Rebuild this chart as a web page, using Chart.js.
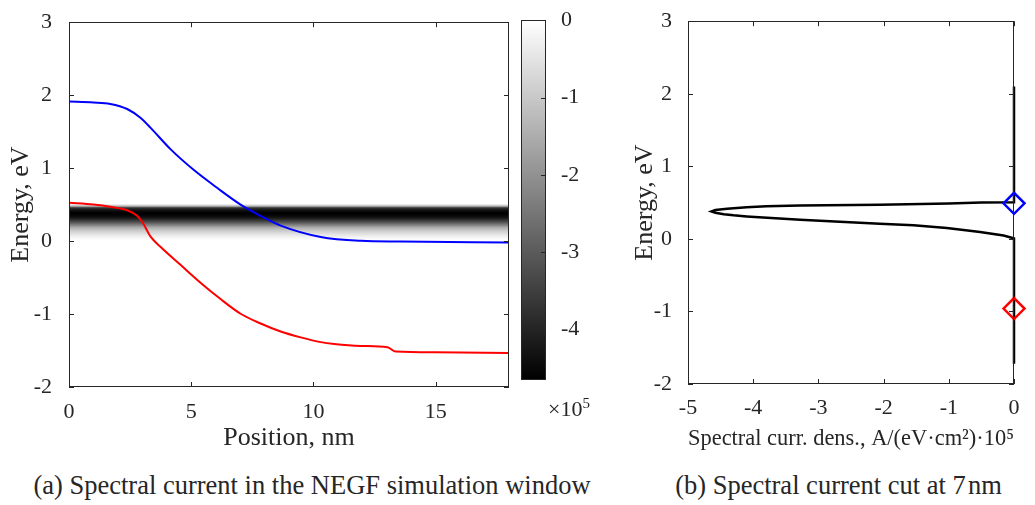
<!DOCTYPE html>
<html>
<head>
<meta charset="utf-8">
<script src="https://cdn.jsdelivr.net/npm/chart.js@4.4.1/dist/chart.umd.min.js"></script>
<style>
  body { margin: 0; background: #fff; width: 1035px; height: 505px; position: relative; overflow: hidden; font-family: "Liberation Serif", serif; color: #262626; }
  canvas { position: absolute; }
  .txt { position: absolute; font-family: "Liberation Serif", serif; white-space: nowrap; color: #262626; }
</style>
</head>
<body>
<canvas id="chartA" width="515" height="460" style="left:0;top:0"></canvas>
<canvas id="chartCb" width="100" height="400" style="left:500px;top:0"></canvas>
<canvas id="chartB" width="415" height="460" style="left:620px;top:0"></canvas>
<div class="txt" id="cbExp" style="left:548px;top:395px;font-size:22px">×10<sup style="font-size:15px">5</sup></div>
<div class="txt" style="left:0;width:624px;text-align:center;top:470px;line-height:30px;font-size:26.5px">(a) Spectral current in the NEGF simulation window</div>
<div class="txt" style="left:642px;width:393px;text-align:center;top:470px;line-height:30px;font-size:26.5px">(b) Spectral current cut at 7&#8202;nm</div>
<script>
// band edges along the device
const bluePos = [0, 1, 1.69, 2.38, 2.92, 3.33, 4.15, 5.11, 6.07, 7.02, 7.84, 8.66, 10.3, 11.94, 13.58, 18];
const blueE   = [1.913, 1.90, 1.88, 1.81, 1.69, 1.555, 1.26, 0.973, 0.727, 0.50, 0.346, 0.212, 0.056, 0.003, -0.007, -0.018];
const redPos  = [0, 1, 1.69, 2.38, 2.79, 3.03, 3.33, 3.74, 4.56, 5.38, 6.2, 7.02, 7.84, 8.66, 9.48, 10.3, 10.85, 11.94, 13.03, 13.37, 15, 18];
const redE    = [0.526, 0.50, 0.47, 0.423, 0.346, 0.244, 0.065, -0.078, -0.325, -0.57, -0.795, -0.996, -1.13, -1.24, -1.32, -1.385, -1.41, -1.437, -1.456, -1.515, -1.525, -1.533];

// spectral current cut at 7 nm (x1e5 A/(eV cm^2))
const specE = [2.1, 0.505, 0.5, 0.487, 0.47, 0.46, 0.45, 0.435, 0.415, 0.398, 0.378, 0.36, 0.34, 0.325, 0.31, 0.264, 0.21, 0.187, 0.15, 0.096, 0.046, 0.02, 0.005, -1.72];
const specJ = [0, 0, -0.5, -1.0, -2.06, -3.28, -3.8, -4.1, -4.4, -4.58, -4.64, -4.58, -4.45, -4.3, -4.1, -3.28, -2.06, -1.54, -1.03, -0.52, -0.16, -0.05, 0, 0];

// band edges at the cut
const markE = [0.49, -0.96];
const markJ = [0, 0];

const posTicks = [0, 5, 10, 15];
const energyTicks = [-2, -1, 0, 1, 2, 3];
const currTicks = [-5, -4, -3, -2, -1, 0];
const cbTicks = [0, -1, -2, -3, -4];
const cbMin = -4.65;

const axisColor = '#262626';
const tickFont = { family: 'Liberation Serif', size: 22 };
const titleFont = { family: 'Liberation Serif', size: 26 };

function grayFor(j) {
    const g = Math.round(255 * (1 - j / cbMin));
    return 'rgb(' + g + ',' + g + ',' + g + ')';
}

function toPoints(xs, ys) {
    return xs.map((x, i) => ({ x: x, y: ys[i] }));
}

// box around plot with inward ticks, like matlab
const frameTicks = {
    id: 'frameTicks',
    afterDraw(chart, args, opts) {
        const { ctx, chartArea: a, scales } = chart;
        ctx.save();
        ctx.strokeStyle = axisColor;
        ctx.lineWidth = 1;
        ctx.strokeRect(Math.round(a.left) + 0.5, Math.round(a.top) + 0.5, Math.round(a.width) - 1, Math.round(a.height) - 1);
        const len = 5;
        ctx.beginPath();
        if (opts.x && scales.x) {
            scales.x.ticks.forEach(t => {
                const px = Math.round(scales.x.getPixelForValue(t.value)) + 0.5;
                ctx.moveTo(px, a.bottom); ctx.lineTo(px, a.bottom - len);
                ctx.moveTo(px, a.top); ctx.lineTo(px, a.top + len);
            });
        }
        if (opts.y && scales.y) {
            scales.y.ticks.forEach(t => {
                const py = Math.round(scales.y.getPixelForValue(t.value)) + 0.5;
                if (opts.y !== 'right') { ctx.moveTo(a.left, py); ctx.lineTo(a.left + len, py); }
                ctx.moveTo(a.right, py); ctx.lineTo(a.right - len, py);
            });
        }
        ctx.stroke();
        ctx.restore();
    }
};

function bandGradient(context) {
    const chart = context.chart;
    if (!chart.chartArea) return 'rgba(0,0,0,0)';
    const y = chart.scales.y;
    const top = y.getPixelForValue(y.max);
    const bot = y.getPixelForValue(y.min);
    const g = chart.ctx.createLinearGradient(0, top, 0, bot);
    g.addColorStop(0, '#fff');
    g.addColorStop(1, '#fff');
    specE.forEach((e, i) => {
        const off = (y.getPixelForValue(e) - top) / (bot - top);
        if (off > 0 && off < 1) g.addColorStop(off, grayFor(specJ[i]));
    });
    return g;
}

function setTicks(list) {
    return function (scale) { scale.ticks = list.map(v => ({ value: v })); };
}

const chartA = new Chart(document.getElementById('chartA').getContext('2d'), {
    type: 'scatter',
    data: {
        datasets: [
            { data: toPoints(bluePos, blueE), showLine: true, borderColor: '#0000ff', borderWidth: 2, pointRadius: 0, cubicInterpolationMode: 'monotone', order: 0 },
            { data: toPoints(redPos, redE), showLine: true, borderColor: '#ff0000', borderWidth: 2, pointRadius: 0, cubicInterpolationMode: 'monotone', order: 0 },
            { data: [{ x: 0, y: 3 }, { x: 18, y: 3 }], showLine: true, borderWidth: 0, pointRadius: 0, fill: { value: -2 }, backgroundColor: bandGradient, order: 5 }
        ]
    },
    options: {
        responsive: false,
        animation: false,
        devicePixelRatio: 1,
        layout: { padding: { top: 14, right: 6, left: 0, bottom: 0 } },
        plugins: { legend: { display: false }, tooltip: { enabled: false }, frameTicks: { x: true, y: true } },
        scales: {
            x: {
                type: 'linear', min: 0, max: 18,
                afterBuildTicks: setTicks(posTicks),
                afterFit: s => { s.height = 73; },
                grid: { display: false },
                border: { display: false },
                ticks: { font: tickFont, color: axisColor, padding: 4, maxRotation: 0 },
                title: { display: true, text: 'Position, nm', font: titleFont, color: axisColor, padding: { top: 6, bottom: 6 } }
            },
            y: {
                type: 'linear', min: -2, max: 3,
                afterBuildTicks: setTicks(energyTicks),
                afterFit: s => { s.width = 69; },
                grid: { display: false },
                border: { display: false },
                ticks: { font: tickFont, color: axisColor, padding: 9 },
                title: { display: true, text: 'Energy, eV', font: titleFont, color: axisColor, padding: { top: 6, bottom: 6 } }
            }
        }
    },
    plugins: [frameTicks]
});

const chartCb = new Chart(document.getElementById('chartCb').getContext('2d'), {
    type: 'bar',
    data: {
        labels: [''],
        datasets: [{
            data: [[cbMin, 0]],
            categoryPercentage: 1, barPercentage: 1, borderWidth: 0,
            backgroundColor: function (context) {
                const chart = context.chart;
                if (!chart.chartArea) return '#888';
                const y = chart.scales.y;
                const g = chart.ctx.createLinearGradient(0, y.getPixelForValue(cbMin), 0, y.getPixelForValue(0));
                g.addColorStop(0, '#000');
                g.addColorStop(1, '#fff');
                return g;
            }
        }]
    },
    options: {
        responsive: false,
        animation: false,
        devicePixelRatio: 1,
        layout: { padding: { top: 14, left: 21, right: 0, bottom: 13 } },
        plugins: { legend: { display: false }, tooltip: { enabled: false }, frameTicks: { x: false, y: 'right' } },
        scales: {
            x: { display: false },
            y: {
                position: 'right', min: cbMin, max: 0,
                afterBuildTicks: setTicks(cbTicks),
                afterFit: s => { s.width = 54; },
                grid: { display: false },
                border: { display: false },
                ticks: { font: tickFont, color: axisColor, padding: 7 }
            }
        }
    },
    plugins: [frameTicks]
});

const chartB = new Chart(document.getElementById('chartB').getContext('2d'), {
    type: 'scatter',
    data: {
        datasets: [
            { data: toPoints(markJ.slice(0, 1), markE.slice(0, 1)), pointStyle: 'rectRot', pointRadius: 10.5, borderColor: '#0000ff', backgroundColor: 'rgba(0,0,0,0)', borderWidth: 2.5, clip: false, order: 0 },
            { data: toPoints(markJ.slice(1), markE.slice(1)), pointStyle: 'rectRot', pointRadius: 10.5, borderColor: '#ff0000', backgroundColor: 'rgba(0,0,0,0)', borderWidth: 2.5, clip: false, order: 0 },
            { data: toPoints(specJ, specE), showLine: true, borderColor: '#000000', borderWidth: 2.5, pointRadius: 0, tension: 0, clip: false, order: 3 }
        ]
    },
    options: {
        responsive: false,
        animation: false,
        devicePixelRatio: 1,
        layout: { padding: { top: 18, right: 21, left: 0, bottom: 0 } },
        plugins: { legend: { display: false }, tooltip: { enabled: false }, frameTicks: { x: true, y: true } },
        scales: {
            x: {
                type: 'linear', min: -5, max: 0,
                afterBuildTicks: setTicks(currTicks),
                afterFit: s => { s.height = 76; },
                grid: { display: false },
                border: { display: false },
                ticks: { font: tickFont, color: axisColor, padding: 3, maxRotation: 0 },
                title: { display: true, text: 'Spectral curr. dens., A/(eV·cm²)·10⁵', font: { family: 'Liberation Serif', size: 23 }, color: axisColor, padding: { top: 7, bottom: 7 } }
            },
            y: {
                type: 'linear', min: -2, max: 3,
                afterBuildTicks: setTicks(energyTicks),
                afterFit: s => { s.width = 68; },
                grid: { display: false },
                border: { display: false },
                ticks: { font: tickFont, color: axisColor, padding: 8 },
                title: { display: true, text: 'Energy, eV', font: titleFont, color: axisColor, padding: { top: 10, bottom: 10 } }
            }
        }
    },
    plugins: [frameTicks]
});
</script>
</body>
</html>
